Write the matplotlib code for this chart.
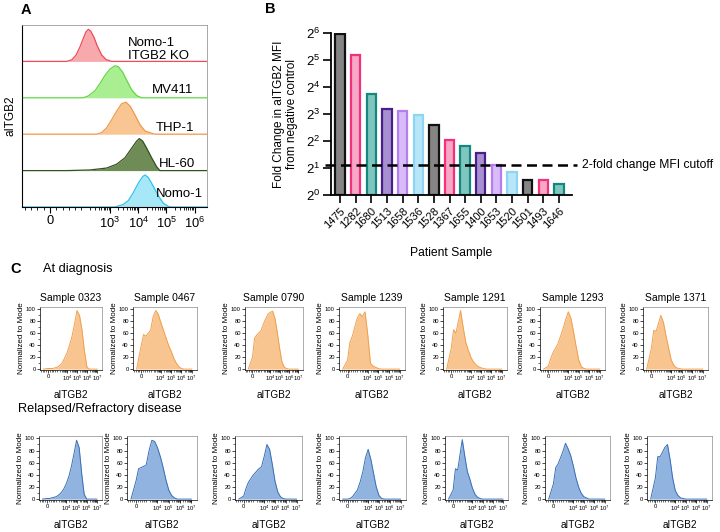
import matplotlib
matplotlib.use('Agg')
import matplotlib.pyplot as plt
from matplotlib.ticker import FixedLocator, NullLocator

plt.rcParams['font.family'] = ['Liberation Sans', 'DejaVu Sans']
plt.rcParams['mathtext.fontset'] = 'custom'
plt.rcParams['mathtext.rm'] = 'Liberation Sans'
plt.rcParams['mathtext.it'] = 'Liberation Sans:italic'
plt.rcParams['mathtext.bf'] = 'Liberation Sans:bold'

# ---------------- panel A: cell lines (top lane first)
a_names = ['Nomo-1\nITGB2 KO', 'MV411', 'THP-1', 'HL-60', 'Nomo-1']
ko_x = [53, 69, 83, 95, 116, 144, 175, 211, 277, 362, 516, 733, 1160]
ko_y = [0, 5, 20, 45, 72, 92, 100, 95, 75, 48, 20, 6, 0]
mv411_x = [116, 175, 300, 451, 677, 1016, 1525, 2000, 2845, 3935, 5900, 8880, 13300]
mv411_y = [0, 6, 22, 45, 70, 90, 100, 97, 80, 55, 25, 7, 0]
thp1_x = [343, 516, 775, 1160, 1745, 2620, 3725, 5170, 7750, 11600, 17500, 34300, 45000]
thp1_y = [0, 5, 20, 45, 72, 95, 100, 88, 60, 30, 10, 1, 0]
hl60_x = [53, 200, 775, 1745, 3430, 5900, 8880, 11000, 14500, 20000, 30000, 45000, 59000]
hl60_y = [0, 2, 8, 20, 40, 70, 92, 100, 92, 70, 40, 12, 0]
nomo1_x = [1525, 3000, 4500, 6770, 10200, 14500, 17500, 22900, 34300, 51600, 77500, 116000, 152000]
nomo1_y = [0, 8, 20, 45, 75, 95, 100, 92, 65, 35, 12, 2, 0]
a_x = [ko_x, mv411_x, thp1_x, hl60_x, nomo1_x]
a_y = [ko_y, mv411_y, thp1_y, hl60_y, nomo1_y]
a_fill = ['#f7a9ac', '#aaee92', '#f9c593', '#6f8c57', '#a6e7f8']
a_edge = ['#ee4c58', '#5fd845', '#f0994a', '#34521f', '#2fc3ee']

# ---------------- panel B: fold change per patient
b_samples = ['1475', '1282', '1680', '1513', '1658', '1536', '1528', '1367',
             '1655', '1400', '1653', '1520', '1501', '1493', '1646']
b_fold = [62.6, 36.4, 13.5, 9.1, 8.6, 7.8, 6.0, 4.1, 3.56, 2.95, 2.18, 1.81, 1.46, 1.46, 1.32]
cutoff = 2.15
b_fill = ['#858585', '#f7a8c6', '#7fc6bf', '#a690cf', '#d8bbf7', '#b7e6f8']
b_edge = ['#111111', '#f2307c', '#14877f', '#4a1f8c', '#b57df0', '#8ed5f4']

# ---------------- panel C: patient histograms, shared intensity grid
c_grid = [-500, 0, 250, 500, 1000, 1800, 3200, 5600, 1e4, 1.8e4, 3.2e4, 5.6e4,
          1e5, 1.8e5, 3.2e5, 5.6e5, 1e6, 1.8e6, 3.2e6, 1e7]
c_samples = ['0323', '0467', '0790', '1239', '1291', '1293', '1371']
diag_0323 = [0, 1, 1, 1, 3, 6, 10, 18, 27, 40, 55, 75, 98, 90, 65, 30, 3, 0, 0, 0]
diag_0467 = [0, 40, 58, 55, 65, 88, 98, 92, 78, 65, 52, 40, 30, 18, 10, 4, 1, 0, 0, 0]
diag_0790 = [0, 20, 52, 57, 64, 75, 84, 92, 95, 97, 85, 62, 35, 12, 3, 1, 0, 0, 0, 0]
diag_1239 = [0, 15, 45, 55, 85, 93, 88, 96, 58, 10, 5, 3, 1, 0, 0, 0, 0, 0, 0, 0]
diag_1291 = [0, 35, 66, 60, 98, 70, 45, 32, 20, 12, 7, 4, 2, 1, 0, 0, 0, 0, 0, 0]
diag_1293 = [0, 5, 18, 28, 42, 55, 68, 83, 96, 85, 62, 38, 15, 4, 1, 0, 0, 0, 0, 0]
diag_1371 = [0, 35, 65, 63, 90, 78, 55, 35, 15, 6, 2, 1, 0, 0, 0, 0, 0, 0, 0, 0]
rel_0323 = [0, 1, 1, 2, 4, 7, 11, 17, 26, 38, 55, 75, 97, 85, 42, 8, 0, 0, 0, 0]
rel_0467 = [0, 30, 50, 52, 56, 80, 97, 95, 85, 70, 52, 32, 15, 6, 2, 0, 0, 0, 0, 0]
rel_0790 = [0, 5, 18, 28, 40, 45, 50, 53, 70, 90, 82, 58, 30, 12, 4, 1, 0, 0, 0, 0]
rel_1239 = [0, 0, 1, 4, 15, 28, 45, 68, 82, 65, 42, 20, 6, 1, 0, 0, 0, 0, 0, 0]
rel_1291 = [0, 15, 50, 48, 98, 70, 45, 33, 18, 8, 3, 1, 0, 0, 0, 0, 0, 0, 0, 0]
rel_1293 = [0, 25, 52, 58, 78, 92, 83, 72, 55, 35, 20, 10, 4, 2, 0, 0, 0, 0, 0, 0]
rel_1371 = [0, 35, 70, 70, 85, 90, 65, 35, 14, 6, 2, 1, 0, 0, 0, 0, 0, 0, 0, 0]
diag_rows = [diag_0323, diag_0467, diag_0790, diag_1239, diag_1291, diag_1293, diag_1371]
rel_rows = [rel_0323, rel_0467, rel_0790, rel_1239, rel_1291, rel_1293, rel_1371]

W, H = 720, 532
fig = plt.figure(figsize=(W / 100, H / 100), dpi=100)


def box(l, t, r, b):
    return [l / W, 1 - b / H, (r - l) / W, (b - t) / H]


def log_minors(lo_exp, hi_exp):
    return [s * 10 ** e for e in range(lo_exp, hi_exp) for s in range(1, 10)]


# ======== A
axA = fig.add_axes(box(22, 25, 207, 207))
axA.set_xscale('symlog', linthresh=100, linscale=1.0)
lo, hi = -89, 2.7e6
for i in range(5):
    base = 4 - i
    ys = [base + 0.88 * v / 100 for v in a_y[i]]
    axA.fill_between(a_x[i], base, ys, color=a_fill[i], lw=0)
    axA.plot([lo] + a_x[i] + [hi], [base] + ys + [base], color=a_edge[i], lw=0.9)
axA.set_xlim(lo, hi)
axA.set_ylim(0, 5)
axA.set_yticks([])
axA.set_xticks([0, 1e3, 1e4, 1e5, 1e6], ['0', '$10^3$', '$10^4$', '$10^5$', '$10^6$'])
axA.xaxis.set_minor_locator(FixedLocator([-80, -60, -40, -20, 20, 40, 60, 80] + log_minors(2, 6)))
axA.tick_params(axis='x', labelsize=9.3, length=4, width=0.8, pad=2)
axA.tick_params(axis='x', which='minor', length=2.5, width=0.6)
for s in ['top', 'right']:
    axA.spines[s].set_color('#9a9a9a')
    axA.spines[s].set_linewidth(0.6)
axA.spines['left'].set_linewidth(0.8)
axA.spines['bottom'].set_linewidth(0.8)
axA.set_ylabel('aITGB2', fontsize=8.5, labelpad=4)
label_pos = [(0.573, 0.865, 'left'), (0.924, 0.643, 'right'), (0.930, 0.434, 'right'),
             (0.935, 0.236, 'right'), (0.978, 0.071, 'right')]
for name, (tx, ty, ha) in zip(a_names, label_pos):
    axA.text(tx, ty, name, transform=axA.transAxes, ha=ha, va='center',
             fontsize=9.5, linespacing=1.05)
fig.text(26 / W, 1 - 10 / H, 'A', fontsize=10.5, fontweight='bold', ha='center', va='center')

# ======== B
axB = fig.add_axes(box(331, 33, 572, 195))
axB.set_yscale('log', base=2)
xs = list(range(len(b_samples)))
fills = [b_fill[i % 6] for i in xs]
edges = [b_edge[i % 6] for i in xs]
axB.bar(xs, [v - 1 for v in b_fold], bottom=1, width=0.6, color=fills,
        edgecolor=edges, linewidth=1.6)
axB.set_ylim(1, 64)
axB.set_xlim(-0.575, 14.83)
axB.set_yticks([2 ** k for k in range(7)], ['$2^{%d}$' % k for k in range(7)])
axB.yaxis.set_minor_locator(NullLocator())
axB.set_xticks(xs, b_samples, rotation=45, ha='right', rotation_mode='anchor')
axB.tick_params(axis='y', labelsize=9.5, length=6, width=1.2, pad=2)
axB.tick_params(axis='x', labelsize=8, length=6, width=1.2, pad=2)
axB.spines['top'].set_visible(False)
axB.spines['right'].set_visible(False)
axB.spines['left'].set_linewidth(1.3)
axB.spines['bottom'].set_linewidth(1.3)
axB.plot([-0.96, 15.15], [cutoff, cutoff], color='black', lw=1.8, ls=(0, (4, 2.2)),
         clip_on=False, zorder=5)
axB.text(15.5, cutoff, '2-fold change MFI cutoff', fontsize=8.7, va='center', ha='left')
axB.set_ylabel('Fold Change in aITGB2 MFI\nfrom negative control', fontsize=8.5,
               linespacing=1.1)
axB.yaxis.set_label_coords(-0.137, 0.5)
axB.set_xlabel('Patient Sample', fontsize=8.7)
axB.xaxis.set_label_coords(0.5, -0.32)
fig.text(270 / W, 1 - 9 / H, 'B', fontsize=10.5, fontweight='bold', ha='center', va='center')

# ======== C
fig.text(16 / W, 1 - 269 / H, 'C', fontsize=10.5, fontweight='bold', ha='center', va='center')
fig.text(43 / W, 1 - 269 / H, 'At diagnosis', fontsize=9.2, ha='left', va='center')
fig.text(18 / W, 1 - 409 / H, 'Relapsed/Refractory disease', fontsize=9.2, ha='left', va='center')

top_lr = [(40, 102), (133, 197), (245, 303), (339, 405), (443, 507), (540, 605), (643, 708)]
bot_lr = [(39, 102), (127, 197), (235, 302), (339, 406), (445, 508), (545, 610), (647, 712)]
c_minor = [-800, -600, -400, -200, 200, 400, 600, 800] + log_minors(3, 7)


def flow_panel(pos, ys, fill, edge, title=None):
    ax = fig.add_axes(pos)
    ax.set_xscale('symlog', linthresh=1000, linscale=0.81)
    ax.fill_between(c_grid, 0, ys, color=fill, lw=0)
    ax.plot(c_grid, ys, color=edge, lw=0.7)
    ax.set_xlim(-890, 3.2e7)
    ax.set_ylim(-1.5, 104)
    ax.set_xticks([0, 1e4, 1e5, 1e6, 1e7], ['0', '$10^4$', '$10^5$', '$10^6$', '$10^7$'])
    ax.xaxis.set_minor_locator(FixedLocator(c_minor))
    ax.set_yticks(range(0, 101, 20))
    ax.yaxis.set_minor_locator(FixedLocator(range(10, 100, 20)))
    ax.tick_params(labelsize=4.2, length=2, width=0.5, pad=1)
    ax.tick_params(which='minor', length=1.2, width=0.4)
    for s in ['top', 'right']:
        ax.spines[s].set_color('#8a8a8a')
    for s in ax.spines.values():
        s.set_linewidth(0.5)
    ax.set_ylabel('Normalized to Mode', fontsize=5.8, labelpad=1)
    ax.set_xlabel('aITGB2', fontsize=7.2, labelpad=4.5)
    if title:
        ax.set_title(title, fontsize=7.5, pad=4)
    return ax


for (l, r), ys, name in zip(top_lr, diag_rows, c_samples):
    flow_panel(box(l, 307, r, 370), ys, '#f8c590', '#f0a04c', 'Sample ' + name)
for (l, r), ys in zip(bot_lr, rel_rows):
    flow_panel(box(l, 436, r, 500), ys, '#90b3df', '#3a6fb5')

fig.savefig('out.png', dpi=100)
